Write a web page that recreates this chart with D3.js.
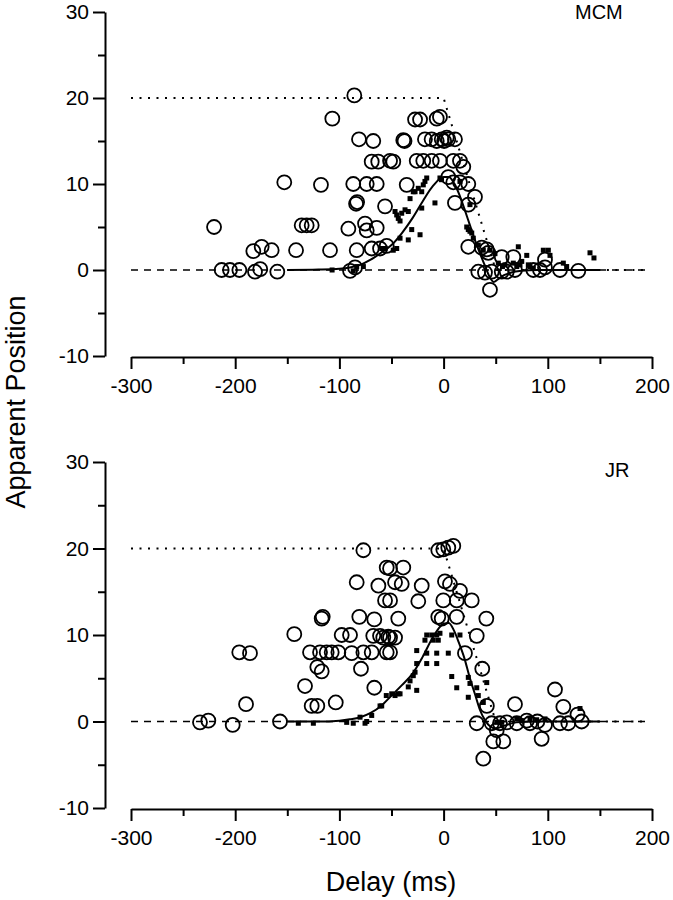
<!DOCTYPE html>
<html lang="en">
<head>
  <meta charset="UTF-8">
  <title>Apparent Position vs Delay</title>
  <script src="https://d3js.org/d3.v7.min.js"></script>
  <style>
    body { margin: 0; background: #fff; }
    text { font-family: "Liberation Sans", Arial, Helvetica, sans-serif; fill: #000; }
    .axis path, .axis line { stroke: #000; stroke-width: 2px; }
    .axis text { font-size: 21px; }
    .circle { fill: none; stroke: #000; stroke-width: 1.8px; }
    .square { fill: #000; }
    .fit { fill: none; stroke: #000; stroke-width: 2px; }
    .zero { fill: none; stroke: #000; stroke-width: 1.4px; stroke-dasharray: 7,6; }
    .bound { fill: none; stroke: #000; stroke-width: 2px; stroke-dasharray: 2,6.5; }
  </style>
</head>
<body>
<svg id="chart"></svg>

<script>
  // tick values
  var xMajor = [-300, -200, -100, 0, 100, 200];
  var xMinor = [-250, -150, -50, 50, 150];
  var yMajor = [-10, 0, 10, 20, 30];
  var yMinor = [-5, 5, 15, 25];

  // reference lines: [delay, position]
  var boundLine = [[-300, 20], [0, 20], [50, 0], [195, 0]];
  var zeroLine = [[-300, 0], [195, 0]];

  // MCM (top) – open circles, filled squares [delay ms, position]
  var topCircles = [
    [-85.7,20.3],[-106.8,17.6],[-27.4,17.5],[-22.6,17.5],[-6.6,17.6],[-3.5,17.8],
    [-81.2,15.2],[-67.5,15.0],[-38.7,15.1],[-37.5,15.0],[-17.9,15.2],[-11.5,15.2],
    [-6.6,15.0],[-1.8,15.2],[0.5,15.0],[3,15.4],[4.5,15.2],[10.9,15.2],
    [-69,12.6],[-62.7,12.6],[-51.4,12.7],[-48.3,12.6],[-25.8,12.7],[-19.5,12.7],
    [-11.4,12.7],[-3.5,12.7],[9.3,12.7],[15.7,12.7],[18.9,12.0],
    [-152.9,10.2],[-117.7,9.9],[-86.7,10.0],[-73.8,10.0],[-64.2,10.0],[-35.4,9.9],
    [4.5,10.8],[9.3,10.2],[15.7,10.2],[23.7,10.0],
    [-84,7.7],[-83,7.9],[-56.2,7.4],[10.9,7.8],[23.7,7.6],[30.1,8.5],
    [-220.3,5.0],[-136.2,5.2],[-131.4,5.2],[-126.6,5.2],[-91.4,4.8],
    [-75.4,5.4],[-73.8,4.6],[-64.2,4.9],
    [-182.6,2.2],[-174.6,2.7],[-165,2.3],[-141.6,2.3],[-109,2.3],[-83.4,2.3],
    [-69,2.5],[-61,2.5],[-54.6,2.8],[23.7,2.7],[36.6,2.6],[41.4,2.4],[42.9,2.0],
    [-213,0],[-205,0],[-196,0],[-181,-0.2],[-176,0.1],[-159.6,-0.2],[-89.8,-0.1],[-85,0.3],
    [33.3,-0.2],[39.7,-0.3],[46.2,-0.2],[55.8,-0.2],[60.6,-0.2],[68.5,0],[86.1,0],
    [92.5,0],[97.3,0.3],[111.7,0],[129.3,-0.1],
    [44.5,-2.3],[55.8,1.5],[66.9,1.5],[97.3,1.2]
  ];
  var topSquares = [
    [-107,0],[-86.7,-0.1],[-83.4,0.4],[-77,0.4],
    [-59.4,2.5],[-56.2,2.5],[-48.3,2.3],[-45,2.5],
    [-41.8,3.7],[-33.9,3.5],[-22.6,4.1],[-30.6,4.7],
    [-46.6,6.8],[-45,6.4],[-43.5,6.0],[-41.8,5.7],[-40.2,6.6],
    [-37,7.0],[-33.9,6.8],[-32.2,8.3],[-29.1,9.1],[-27.4,9.1],[-24.3,9.5],[-21,9.1],
    [-19.5,9.9],[-17.9,10.3],[-16.2,10.7],[-21,7.2],[-8.3,7.8],
    [-3.5,10.7],[-2,10.5],[15.7,10.3],[25.3,7.6],
    [22.2,5.0],[23.7,4.7],[25.3,4.5],[27,4.3],[28.5,3.7],[33.3,2.9],[38.1,2.3],
    [44.5,2.3],[49.3,1.9],[52.5,0.8],[56.5,0.4],[58.9,0.6],
    [66.9,0.8],[70.2,0.4],[73.3,0.6],[71.7,2.7],[75,1.0],[79.8,1.7],[81.3,0.6],[82.9,0.4],[86.1,0.2],
    [95.7,2.3],[100.5,2.3],[102.1,1.7],[114.9,0.8],[118.1,0.4],[140.5,2.0],[144.3,1.4]
  ];
  var topFitX = [-150,-120,-100,-90,-80,-70,-60,-50,-40,-30,-20,-10,0,5,10,15,20,25,30,35,40,45,48,52,58,65,75,90,150];
  var topFitY = [0,0.05,0.15,0.3,0.6,1.2,2.0,2.9,4.3,6.0,8.0,9.8,10.8,10.8,10.1,8.8,7.1,5.3,3.5,1.9,0.4,-1.0,-1.4,-1.1,-0.6,-0.3,-0.1,0,0];

  // JR (bottom)
  var botCircles = [
    [-77,19.8],[-5.1,19.8],[-0.3,19.9],[4.5,20.1],[9.3,20.3],
    [-54.6,17.8],[-51.4,17.7],[-38.7,17.8],
    [-83.4,16.1],[-62.6,15.7],[-46.6,16.1],[-40.2,15.9],[-21,15.7],[1.3,16.2],[6.1,15.9],[15.7,15.1],
    [-56.2,14.0],[-51.4,14.0],[-24.3,13.9],[-0.3,14.0],[12.6,14.0],[27,14.0],
    [-117,11.9],[-116,12.1],[-80.9,12.1],[-66.5,11.8],[-43.5,11.9],[-5.1,12.1],[-1.8,11.9],[12.6,12.1],[41,11.9],
    [-143.3,10.1],[-97.8,10.0],[-89.8,10.0],[-67.5,9.9],[-61,9.9],[-57.9,9.7],[-53.1,9.8],
    [-51.4,9.7],[-46.6,9.7],[31.8,9.9],
    [-196.1,8.0],[-185.8,7.9],
    [-128.2,8.0],[-118.6,8.0],[-112.2,8.0],[-107.4,8.0],[-101,8.0],[-88.2,7.9],[-77,8.0],
    [-69,8.0],[-54.6,8.0],[-51.4,8.0],[20.5,7.9],
    [-121.2,6.3],[-117,5.8],[-79.3,6.1],[37.1,6.1],
    [-133,4.1],[-66.5,3.9],
    [-189.6,2.0],[-126.6,1.8],[-121.2,1.8],[-103.5,2.2],[41.5,1.8],[68.5,2.0],[106.9,3.7],[114.9,1.7],[128.5,0.8],
    [-233.8,-0.1],[-225.8,0.1],[-202.4,-0.4],[-157,0],
    [31.8,-0.2],[46.2,-0.2],[54.1,-0.2],[60.6,-0.1],[70.2,-0.2],[79.8,0.1],[82.9,-0.2],[90,0],
    [97.3,-0.4],[111.7,-0.2],[119.7,-0.2],[132.5,0],
    [47.7,-2.3],[51,-1.0],[57.3,-2.3],[94.1,-2.0],[38.1,-4.3]
  ];
  var botSquares = [
    [-139.4,-0.2],[-125,-0.2],[-93,-0.1],[-86.7,-0.2],[-80.2,0.5],[-75.4,-0.2],[-73.8,0],
    [-69,0.7],[-61,1.8],[-59.4,1.8],[-55,3.0],
    [-49.8,3.2],[-46.6,3.0],[-43.5,3.2],[-41.8,3.2],
    [-33.9,4.0],[-25.8,3.6],[-32.2,4.7],[-29.1,5.3],[-27.4,5.7],
    [-25.8,6.7],[-16.2,6.7],[-6.6,6.7],
    [-25.8,8.2],[-16.2,7.9],[-6.6,7.9],[4.5,7.9],
    [-17.9,9.4],[-9.9,9.4],[-5.1,9.4],
    [-16.2,10.0],[-11.4,10.0],[-6.6,10.0],[-3.5,10.2],[7.8,10.0],[15.7,10.0],
    [7.8,5.2],[12.6,3.9],[23.7,5.1],[25.3,4.4],[23.7,2.8],[31.8,3.9],[33.3,3.0],[41.4,4.5],[38.1,2.2],
    [51,-0.1],[55.8,-0.1],
    [70.2,0.3],[75,0.1],[82.9,0.3],[89.3,0.2],[97.3,0.3],[130.9,1.5]
  ];
  var botFitX = [-150,-120,-100,-90,-80,-70,-60,-50,-40,-30,-20,-10,0,5,10,15,20,25,30,35,40,45,50,58,70,90,150];
  var botFitY = [0,0,0.1,0.25,0.5,1.0,1.8,3.0,4.2,5.5,7.5,9.8,11.3,11.4,10.5,9.0,7.3,5.1,3.2,1.3,0.1,-0.6,-0.8,-0.5,-0.1,0,0];

  var svg = d3.select("#chart")
          .attr("width", 673)
          .attr("height", 900);

  var x = d3.scaleLinear()
          .domain([-300, 200])
          .range([131, 652]);

  var yAxisX = 105;

  // plain hyphen for negatives, like the original figure
  function plain(d) { return String(d); }

  function drawPanel(top, bottom, circles, squares, fitX, fitY, name, nameX, nameY) {
    var y = d3.scaleLinear()
            .domain([-10, 30])
            .range([bottom, top]);

    var g = svg.append("g");

    // y axis (major + minor ticks)
    g.append("g")
            .attr("class", "axis")
            .attr("transform", "translate(" + yAxisX + ",0)")
            .call(d3.axisLeft(y).tickValues(yMajor).tickFormat(plain).tickSize(12).tickSizeOuter(0).tickPadding(4))
            .call(function(a) { a.selectAll("text").attr("font-family", null).attr("font-size", null); });
    g.append("g")
            .attr("class", "axis")
            .attr("transform", "translate(" + yAxisX + ",0)")
            .call(d3.axisLeft(y).tickValues(yMinor).tickSize(7).tickSizeOuter(0).tickFormat(""))
            .select(".domain").remove();

    // x axis
    var xAxisY = bottom + 1;
    g.append("g")
            .attr("class", "axis")
            .attr("transform", "translate(0," + xAxisY + ")")
            .call(d3.axisBottom(x).tickValues(xMajor).tickFormat(plain).tickSize(12).tickSizeOuter(0).tickPadding(9))
            .call(function(a) { a.selectAll("text").attr("font-family", null).attr("font-size", null); });
    g.append("g")
            .attr("class", "axis")
            .attr("transform", "translate(0," + xAxisY + ")")
            .call(d3.axisBottom(x).tickValues(xMinor).tickSize(7).tickSizeOuter(0).tickFormat(""))
            .select(".domain").remove();

    var line = d3.line()
            .x(function(d) { return x(d[0]); })
            .y(function(d) { return y(d[1]); });

    g.append("path").attr("class", "zero").attr("d", line(zeroLine));
    g.append("path").attr("class", "bound").attr("d", line(boundLine));

    // fitted curve
    var fit = fitX.map(function(d, i) { return [d, fitY[i]]; });
    g.append("path")
            .attr("class", "fit")
            .attr("d", line.curve(d3.curveMonotoneX)(fit));

    g.selectAll(".square")
            .data(squares)
            .enter().append("rect")
            .attr("class", "square")
            .attr("x", function(d) { return x(d[0]) - 2.5; })
            .attr("y", function(d) { return y(d[1]) - 2.5; })
            .attr("width", 5)
            .attr("height", 5);

    g.selectAll(".circle")
            .data(circles)
            .enter().append("circle")
            .attr("class", "circle")
            .attr("cx", function(d) { return x(d[0]); })
            .attr("cy", function(d) { return y(d[1]); })
            .attr("r", 7);

    g.append("text")
            .attr("x", nameX)
            .attr("y", nameY)
            .attr("font-size", "20px")
            .text(name);
  }

  drawPanel(12, 356, topCircles, topSquares, topFitX, topFitY, "MCM", 575, 19);
  drawPanel(462, 808, botCircles, botSquares, botFitX, botFitY, "JR", 605, 477);

  // axis titles
  svg.append("text")
          .attr("transform", "translate(25,402) rotate(-90)")
          .attr("text-anchor", "middle")
          .attr("font-size", "27px")
          .text("Apparent Position");

  svg.append("text")
          .attr("x", 391)
          .attr("y", 891)
          .attr("text-anchor", "middle")
          .attr("font-size", "27px")
          .text("Delay (ms)");
</script>
</body>
</html>
